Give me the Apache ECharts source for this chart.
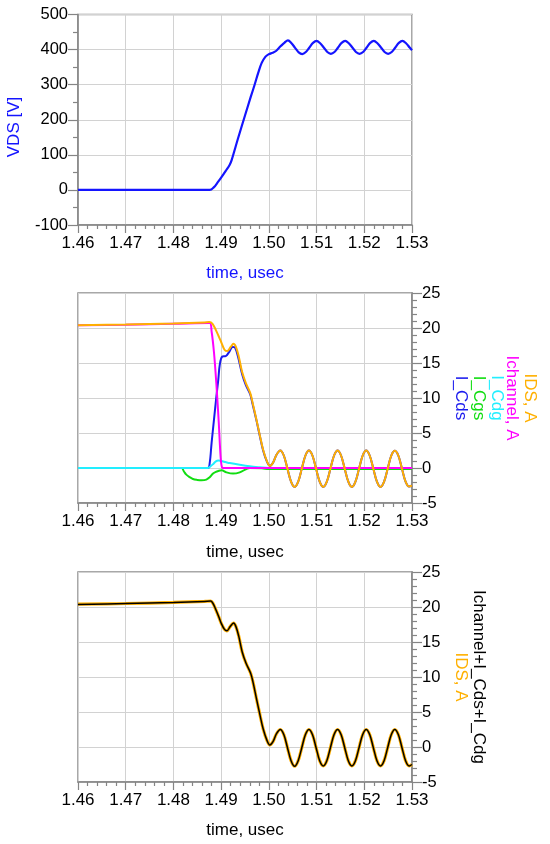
<!DOCTYPE html>
<html>
<head>
<meta charset="utf-8">
<script src="https://cdn.jsdelivr.net/npm/echarts@6/dist/echarts.min.js"></script>
<style>
html,body{margin:0;padding:0;background:#fff;}
#chart{width:550px;height:844px;}
</style>
</head>
<body>
<div id="chart"></div>
<script>
// ---- axis ranges / tick settings ----
const timeRange = [1.46, 1.53];
const timeStep = 0.01;
const vdsRange = [-100, 500];
const vdsStep = 100;
const currRange = [-5, 25];
const currStep = 5;

// ---- texts ----
const xTitle = 'time, usec';
const vdsTitle = 'VDS [V]';
const midNames = ['IDS, A', 'Ichannel, A', 'I_Cdg', 'I_Cgs', 'I_Cds'];
const botNames = ['Ichannel+I_Cds+I_Cdg', 'IDS, A'];

// ---- top: VDS [V] vs time ----
const vdsData = [
[1.46,0],[1.47,0],[1.48,0],[1.4876,0],[1.4885,8],[1.4893,22],[1.49,35],[1.491,55],[1.4918,72],[1.4922,85],
[1.4935,145],[1.495,212],[1.4962,265],[1.497,299],[1.4978,335],[1.4985,362],[1.4993,380],[1.5,387],
[1.5008,391],[1.5015,396],[1.5025,410],[1.5033,420],[1.504,426],[1.50475,418],[1.5055,405],[1.50625,392],
[1.507,387],[1.50775,393],[1.5085,406],[1.50925,419],[1.51,425],[1.51075,418],[1.5115,406],[1.51225,393],
[1.513,388],[1.51375,393],[1.5145,406],[1.51525,419],[1.516,425],[1.51675,418],[1.5175,406],[1.51825,393],
[1.519,388],[1.51975,393],[1.5205,406],[1.52125,419],[1.522,425],[1.52275,418],[1.5235,406],[1.52425,393],
[1.525,388],[1.52575,393],[1.5265,406],[1.52725,419],[1.528,425],[1.52875,418],[1.5295,406],[1.53,398]
];

// ---- middle: currents [A] ----
const idsData = [
[1.46,20.4],[1.47,20.5],[1.48,20.65],[1.4865,20.8],[1.4875,20.85],[1.4882,20.6],[1.4889,19.7],[1.4895,18.8],
[1.49,18.0],[1.4907,16.9],[1.4913,16.7],[1.492,17.3],[1.4926,17.75],[1.4931,17.3],[1.4937,15.9],[1.4944,13.7],
[1.4952,12.1],[1.4961,10.7],[1.4966,9.3],[1.4974,6.9],[1.4981,4.7],[1.4988,2.6],[1.4996,0.95],[1.5002,0.3],
[1.5009,0.8],[1.5016,1.9],[1.5024,2.5],[1.50315,1.75],[1.5039,-0.1],[1.50465,-1.95],[1.5054,-2.7],[1.50615,-1.95],
[1.5069,-0.1],[1.50765,1.75],[1.5084,2.5],[1.50915,1.75],[1.5099,-0.1],[1.51065,-1.95],[1.5114,-2.7],[1.51215,-1.95],
[1.5129,-0.1],[1.51365,1.75],[1.5144,2.5],[1.51515,1.75],[1.5159,-0.1],[1.51665,-1.95],[1.5174,-2.7],[1.51815,-1.95],
[1.5189,-0.1],[1.51965,1.75],[1.5204,2.5],[1.52115,1.75],[1.5219,-0.1],[1.52265,-1.95],[1.5234,-2.7],[1.52415,-1.95],
[1.5249,-0.1],[1.52565,1.75],[1.5264,2.45],[1.52715,1.75],[1.5279,-0.1],[1.52865,-1.95],[1.5294,-2.65],[1.53,-2.5]
];
const ichannelData = [
[1.46,20.38],[1.47,20.47],[1.48,20.6],[1.4876,20.7],[1.488,19.5],[1.4885,16.5],[1.489,12.0],[1.4895,6.5],
[1.4899,1.5],[1.4902,0.05],[1.4905,0],[1.51,0],[1.53,0]
];
const icdgData = [
[1.46,0],[1.4872,0],[1.4877,0.2],[1.4883,0.55],[1.4889,0.95],[1.4894,1.08],[1.49,1.0],[1.4909,0.85],
[1.4918,0.7],[1.4939,0.45],[1.496,0.24],[1.4981,0.1],[1.5,0],[1.53,0]
];
const icgsData = [
[1.46,0],[1.4817,0],[1.4822,-0.5],[1.4827,-0.95],[1.4834,-1.3],[1.4841,-1.57],[1.485,-1.7],[1.4859,-1.76],
[1.4869,-1.66],[1.4876,-1.33],[1.4883,-0.8],[1.4889,-0.55],[1.4894,-0.43],[1.4901,-0.33],[1.4911,-0.62],
[1.4925,-0.8],[1.4939,-0.62],[1.4953,-0.14],[1.496,0],[1.4985,-0.05],[1.5,-0.15],[1.515,-0.15],[1.53,-0.15]
];
const icdsData = [
[1.46,0],[1.4872,0],[1.4876,0.7],[1.488,3.6],[1.4885,6.9],[1.489,10.2],[1.4894,12.6],[1.4897,14.7],
[1.4902,15.9],[1.491,16.0],[1.4917,16.6],[1.4924,17.3],[1.4929,17.2],[1.4935,16.0],[1.4944,13.4],[1.4952,11.8],
[1.4961,10.5],[1.4966,9.1],[1.4974,6.8],[1.4981,4.6],[1.4988,2.5],[1.4996,0.9],[1.5002,0.3],
[1.5009,0.8],[1.5016,1.9],[1.5024,2.5],[1.50315,1.75],[1.5039,-0.1],[1.50465,-1.95],[1.5054,-2.7],[1.50615,-1.95],
[1.5069,-0.1],[1.50765,1.75],[1.5084,2.5],[1.50915,1.75],[1.5099,-0.1],[1.51065,-1.95],[1.5114,-2.7],[1.51215,-1.95],
[1.5129,-0.1],[1.51365,1.75],[1.5144,2.5],[1.51515,1.75],[1.5159,-0.1],[1.51665,-1.95],[1.5174,-2.7],[1.51815,-1.95],
[1.5189,-0.1],[1.51965,1.75],[1.5204,2.5],[1.52115,1.75],[1.5219,-0.1],[1.52265,-1.95],[1.5234,-2.7],[1.52415,-1.95],
[1.5249,-0.1],[1.52565,1.75],[1.5264,2.45],[1.52715,1.75],[1.5279,-0.1],[1.52865,-1.95],[1.5294,-2.65],[1.53,-2.5]
];

// ---- bottom: sum vs IDS ----
const sumData = [
[1.46,20.35],[1.47,20.5],[1.48,20.65],[1.4865,20.8],[1.4878,20.85],[1.4883,20.5],[1.4889,19.6],[1.4895,18.6],
[1.49,17.7],[1.4907,16.8],[1.4912,16.6],[1.4919,17.2],[1.4926,17.7],[1.4931,17.2],[1.4937,15.8],[1.4944,13.6],
[1.4952,12.0],[1.4962,10.5],[1.4967,9.2],[1.4974,6.9],[1.4981,4.7],[1.4988,2.6],[1.4996,0.95],[1.5002,0.3],
[1.5009,0.8],[1.5016,1.9],[1.5024,2.5],[1.50315,1.75],[1.5039,-0.1],[1.50465,-1.95],[1.5054,-2.75],[1.50615,-1.95],
[1.5069,-0.1],[1.50765,1.75],[1.5084,2.5],[1.50915,1.75],[1.5099,-0.1],[1.51065,-1.95],[1.5114,-2.7],[1.51215,-1.95],
[1.5129,-0.1],[1.51365,1.75],[1.5144,2.5],[1.51515,1.75],[1.5159,-0.1],[1.51665,-1.95],[1.5174,-2.7],[1.51815,-1.95],
[1.5189,-0.1],[1.51965,1.75],[1.5204,2.5],[1.52115,1.75],[1.5219,-0.1],[1.52265,-1.95],[1.5234,-2.7],[1.52415,-1.95],
[1.5249,-0.1],[1.52565,1.75],[1.5264,2.5],[1.52715,1.75],[1.5279,-0.1],[1.52865,-1.95],[1.5294,-2.7],[1.53,-2.5]
];
const idsBotData = [
[1.46,20.4],[1.47,20.5],[1.48,20.65],[1.4865,20.8],[1.4878,20.85],[1.4883,20.5],[1.4889,19.6],[1.4895,18.6],
[1.49,17.7],[1.4907,16.8],[1.4912,16.6],[1.4919,17.2],[1.4926,17.7],[1.4931,17.2],[1.4937,15.8],[1.4944,13.6],
[1.4952,12.0],[1.4962,10.5],[1.4967,9.2],[1.4974,6.9],[1.4981,4.7],[1.4988,2.6],[1.4996,0.95],[1.5002,0.3],
[1.5009,0.8],[1.5016,1.9],[1.5024,2.5],[1.50315,1.75],[1.5039,-0.1],[1.50465,-1.95],[1.5054,-2.75],[1.50615,-1.95],
[1.5069,-0.1],[1.50765,1.75],[1.5084,2.5],[1.50915,1.75],[1.5099,-0.1],[1.51065,-1.95],[1.5114,-2.7],[1.51215,-1.95],
[1.5129,-0.1],[1.51365,1.75],[1.5144,2.5],[1.51515,1.75],[1.5159,-0.1],[1.51665,-1.95],[1.5174,-2.7],[1.51815,-1.95],
[1.5189,-0.1],[1.51965,1.75],[1.5204,2.5],[1.52115,1.75],[1.5219,-0.1],[1.52265,-1.95],[1.5234,-2.7],[1.52415,-1.95],
[1.5249,-0.1],[1.52565,1.75],[1.5264,2.5],[1.52715,1.75],[1.5279,-0.1],[1.52865,-1.95],[1.5294,-2.7],[1.53,-2.5]
];

// ---- styling ----
const FONT = "'Liberation Sans', Arial, sans-serif";
const AXIS_GRAY = '#858585';
const GRID_GRAY = '#d2d2d2';
const C = {
  vds: '#1414ff', ids: '#ffb000', ich: '#ff00ff', cdg: '#22eeff', cgs: '#11dd11', cds: '#1a1aee', sum: '#000000'
};

const chart = echarts.init(document.getElementById('chart'), null, {renderer: 'canvas'});

function xAxis(gi) {
  return {
    type: 'value', gridIndex: gi, min: timeRange[0], max: timeRange[1], interval: timeStep,
    axisLine: {onZero: false, lineStyle: {color: AXIS_GRAY, width: 1.5}},
    axisTick: {length: 8, lineStyle: {color: AXIS_GRAY, width: 1.2}},
    minorTick: {show: true, splitNumber: 5, length: 4, lineStyle: {color: AXIS_GRAY, width: 1.2}},
    splitLine: {show: true, lineStyle: {color: GRID_GRAY, width: 1}},
    axisLabel: {fontSize: 17, color: '#000', margin: 10, fontFamily: FONT,
      formatter: v => v.toFixed(2)}
  };
}
function yAxis(gi, pos, range, step, minorSplit) {
  return {
    type: 'value', gridIndex: gi, position: pos, min: range[0], max: range[1], interval: step,
    axisLine: {show: true, onZero: false, lineStyle: {color: AXIS_GRAY, width: 1.5}},
    axisTick: {show: true, length: 10, lineStyle: {color: AXIS_GRAY, width: 1.2}},
    minorTick: {show: true, splitNumber: minorSplit, length: 5, lineStyle: {color: AXIS_GRAY, width: 1.2}},
    splitLine: {show: true, lineStyle: {color: GRID_GRAY, width: 1}},
    axisLabel: {fontSize: 16.5, color: '#000', margin: 10, fontFamily: FONT}
  };
}
function line(name, data, xi, color, width, z) {
  return {
    name, type: 'line', xAxisIndex: xi, yAxisIndex: xi, data, showSymbol: false, symbol: 'none',
    smooth: 0.35, lineStyle: {color, width}, itemStyle: {color}, z: z, animation: false
  };
}
function vtext(str, x, y, color, rot) {
  return {
    type: 'text', x, y, rotation: rot, z: 100,
    style: {text: str, fill: color, font: '17px ' + FONT, align: 'center', verticalAlign: 'middle'}
  };
}

const option = {
  backgroundColor: '#fff',
  animation: false,
  grid: [
    {left: 78, right: 138, top: 14.5, height: 210.5, show: true, borderColor: '#8c8c8c', borderWidth: 1.5},
    {left: 78, right: 138, top: 293, height: 210, show: true, borderColor: '#8c8c8c', borderWidth: 1.5},
    {left: 78, right: 138, top: 572, height: 210, show: true, borderColor: '#8c8c8c', borderWidth: 1.5}
  ],
  xAxis: [xAxis(0), xAxis(1), xAxis(2)],
  yAxis: [
    yAxis(0, 'left', vdsRange, vdsStep, 2),
    yAxis(1, 'right', currRange, currStep, 5),
    yAxis(2, 'right', currRange, currStep, 5)
  ],
  series: [
    line('VDS', vdsData, 0, C.vds, 2.2, 5),
    line('I_Cds', icdsData, 1, C.cds, 2, 2),
    line('I_Cgs', icgsData, 1, C.cgs, 2, 3),
    line('I_Cdg', icdgData, 1, C.cdg, 2, 4),
    line('Ichannel', ichannelData, 1, C.ich, 2, 5),
    line('IDS', idsData, 1, C.ids, 2, 6),
    line('IDS', idsBotData, 2, C.ids, 3.2, 3),
    line('Ichannel+I_Cds+I_Cdg', sumData, 2, C.sum, 1.5, 4)
  ],
  graphic: [
    vtext(vdsTitle, 14, 127, C.vds, Math.PI / 2),
    vtext(xTitle, 245, 273, C.vds, 0),
    vtext(xTitle, 245, 552, '#000', 0),
    vtext(xTitle, 245, 830, '#000', 0),
    vtext(midNames[0], 530, 398, C.ids, -Math.PI / 2),
    vtext(midNames[1], 512, 398, C.ich, -Math.PI / 2),
    vtext(midNames[2], 496.5, 398, C.cdg, -Math.PI / 2),
    vtext(midNames[3], 479, 398, C.cgs, -Math.PI / 2),
    vtext(midNames[4], 461, 398, C.cds, -Math.PI / 2),
    vtext(botNames[0], 479, 677, '#000', -Math.PI / 2),
    vtext(botNames[1], 461, 677, C.ids, -Math.PI / 2)
  ]
};
chart.setOption(option);
</script>
</body>
</html>
